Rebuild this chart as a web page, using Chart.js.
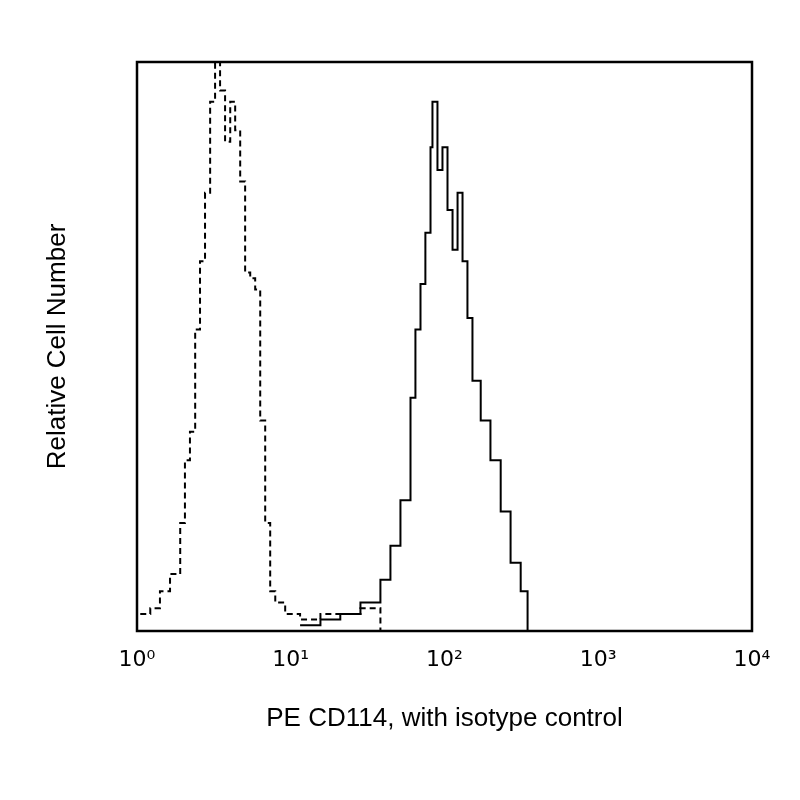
<!DOCTYPE html>
<html><head><script src="https://cdn.jsdelivr.net/npm/chart.js@4"></script>
<style>body{margin:0;background:#fff}#w{width:800px;height:800px}</style></head>
<body><div id="w"><canvas id="c"></canvas></div>
<script>
const isoX=[1.05,1.22,1.41,1.64,1.91,2.05,2.21,2.39,2.57,2.77,2.99,3.22,3.47,3.74,4.04,4.35,4.69,5.05,5.45,5.87,6.33,6.82,7.35,7.93,9.2,11.5,15.6,21,28.4,38.3];
const isoY=[3,4,7,10,19,30,35,53,65,77,93,100,95,86,93,88,79,63,62,60,37,19,7,5,3,2,3,3,4,0];
const cdX=[11.5,15.6,21,28.4,38.3,44.5,51.7,60.1,64.7,69.8,75.1,81.1,83.5,90,97,104.6,112.8,121.6,131,141,152,172,199,232,269,313,347];
const cdY=[1,2,3,5,9,15,23,41,53,61,70,85,93,81,85,74,67,77,65,55,44,37,30,21,12,7,0];
const tickVals=[1,10,100,1000,10000];
const tickLabels=['10\u2070','10\u00B9','10\u00B2','10\u00B3','10\u2074'];
const pts=(xs,ys)=>xs.map((x,i)=>({x,y:ys[i]}));
const frame={id:'frame',afterDatasetsDraw(c){const a=c.chartArea,g=c.ctx;g.save();g.strokeStyle='#000';g.lineWidth=2.5;g.strokeRect(a.left,a.top,a.right-a.left,a.bottom-a.top);g.restore();}};
new Chart(document.getElementById('c'),{type:'line',
data:{datasets:[
{data:pts(isoX,isoY),borderColor:'#000',borderWidth:2,borderDash:[6,4],stepped:true,pointRadius:0,fill:false},
{data:pts(cdX,cdY),borderColor:'#000',borderWidth:2,stepped:true,pointRadius:0,fill:false}]},
options:{responsive:true,maintainAspectRatio:false,animation:false,
layout:{padding:{top:62,right:48,left:38,bottom:62}},
plugins:{legend:{display:false},tooltip:{enabled:false}},
scales:{
x:{type:'logarithmic',min:1,max:10000,grid:{display:false},border:{display:false},
 afterBuildTicks(s){s.ticks=tickVals.map(v=>({value:v}));},
 afterFit(s){s.height=107;},
 ticks:{color:'#000',font:{family:'DejaVu Sans',size:22},padding:8,callback:(v)=>{const i=tickVals.indexOf(v);return i>=0?tickLabels[i]:'';}},
 title:{display:true,text:'PE CD114, with isotype control',color:'#000',font:{family:'Liberation Sans',size:26},padding:{top:20}}},
y:{min:0,max:100,grid:{display:false},border:{display:false},ticks:{display:false},
 afterFit(s){s.width=99;},
 title:{display:true,text:'Relative Cell Number',color:'#000',font:{family:'Liberation Sans',size:26},padding:{bottom:30}}}}},
plugins:[frame]});
</script></body></html>
